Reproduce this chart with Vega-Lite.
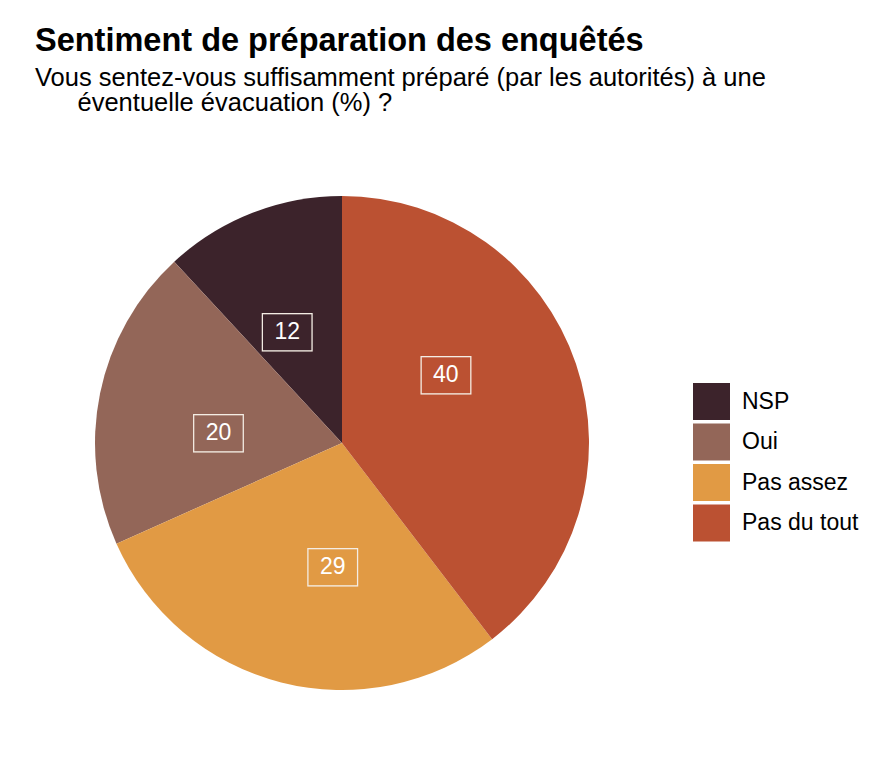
{
  "$schema": "https://vega.github.io/schema/vega-lite/v6.json",
  "width": 494,
  "height": 494,
  "autosize": {"type": "none"},
  "padding": {"left": 95, "top": 196, "right": 287, "bottom": 74},
  "background": "white",
  "config": {"view": {"stroke": null}, "font": "Liberation Sans"},
  "title": {
    "text": "Sentiment de préparation des enquêtés",
    "subtitle": ["Vous sentez-vous suffisamment préparé (par les autorités) à une", "\u200b\u00a0\u00a0\u00a0\u00a0\u00a0\u00a0éventuelle évacuation (%) ?"],
    "anchor": "start",
    "frame": "group",
    "dx": -60,
    "offset": 80,
    "font": "Liberation Sans",
    "fontSize": 32.5,
    "fontWeight": "bold",
    "color": "#000000",
    "subtitleFont": "Liberation Sans",
    "subtitleFontSize": 25.5,
    "subtitleColor": "#000000",
    "subtitleLineHeight": 25,
    "subtitlePadding": 8
  },
  "data": {
    "values": [
      {"reponse": "NSP", "pct": 12},
      {"reponse": "Oui", "pct": 20},
      {"reponse": "Pas assez", "pct": 29},
      {"reponse": "Pas du tout", "pct": 40}
    ]
  },
  "resolve": {"scale": {"theta": "independent"}},
  "layer": [
    {
      "mark": {"type": "arc", "strokeWidth": 0},
      "encoding": {
        "theta": {"field": "pct", "type": "quantitative", "stack": true},
        "order": {"field": "reponse", "type": "ordinal", "sort": "descending"},
        "color": {
          "field": "reponse",
          "type": "nominal",
          "scale": {
            "domain": ["NSP", "Oui", "Pas assez", "Pas du tout"],
            "range": ["#3c232b", "#936658", "#e19a44", "#bb5132"]
          },
          "legend": {
            "title": null,
            "orient": "none",
            "legendX": 598,
            "legendY": 187,
            "padding": 0,
            "symbolType": "square",
            "symbolSize": 1369,
            "symbolStrokeWidth": 0,
            "symbolOpacity": 1,
            "labelFont": "Liberation Sans",
            "labelFontSize": 23,
            "labelColor": "#000000",
            "labelOffset": 12,
            "rowPadding": 3.5
          }
        }
      }
    },
    {
      "layer": [
        {
          "mark": {
            "type": "text",
            "radius": 124,
            "font": "DejaVu Sans",
            "fontSize": 63,
            "align": "center",
            "baseline": "alphabetic",
            "dy": 3,
            "fill": "#ffffff",
            "fillOpacity": 0,
            "stroke": "#f4ede4",
            "strokeWidth": 1.2
          },
          "encoding": {
            "theta": {"field": "pct", "type": "quantitative", "stack": true, "scale": {"range": [-0.2958, 6.2128]}},
            "order": {"field": "reponse", "type": "ordinal", "sort": "descending"},
            "detail": {"field": "reponse", "type": "nominal"},
            "text": {"value": "▄"}
          }
        },
        {
          "mark": {
            "type": "text",
            "radius": 124,
            "font": "Liberation Sans",
            "fontSize": 23,
            "align": "center",
            "baseline": "middle",
            "fill": "#ffffff"
          },
          "encoding": {
            "theta": {"field": "pct", "type": "quantitative", "stack": true},
            "order": {"field": "reponse", "type": "ordinal", "sort": "descending"},
            "detail": {"field": "reponse", "type": "nominal"},
            "text": {"field": "pct", "type": "quantitative"}
          }
        }
      ]
    }
  ]
}
